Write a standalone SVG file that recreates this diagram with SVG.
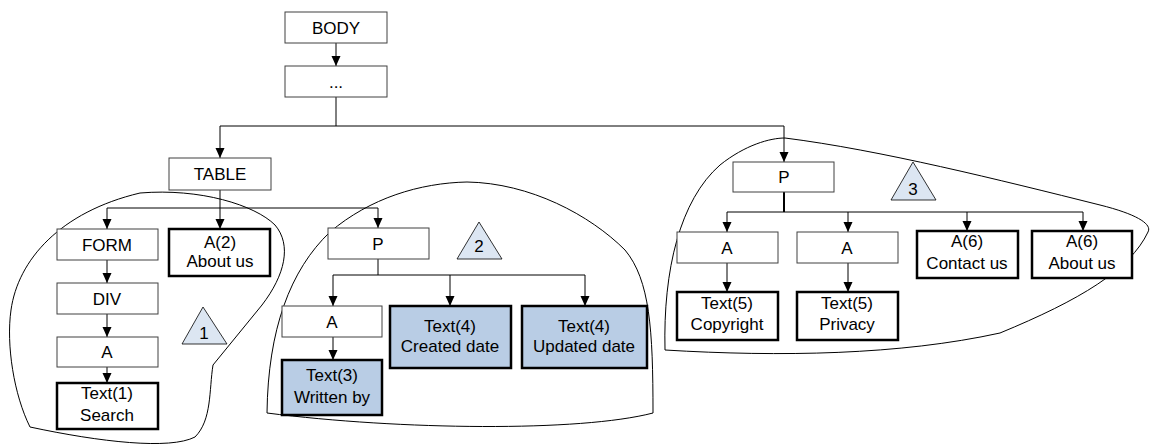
<svg xmlns="http://www.w3.org/2000/svg" width="1152" height="447" viewBox="0 0 1152 447">
<defs>
<marker id="ah" markerUnits="userSpaceOnUse" markerWidth="10" markerHeight="10" viewBox="0 0 10 10" refX="10" refY="5" orient="auto">
<path d="M0,0.5 L10,5 L0,9.5 Z" fill="#000"/>
</marker>
<style>
.n{fill:#fff;stroke:#404040;stroke-width:1}
.b{fill:#fff;stroke:#000;stroke-width:2.5}
.bl{fill:#b9cde5;stroke:#000;stroke-width:2.5}
.t{font-family:"Liberation Sans",Arial,sans-serif;font-size:17px;fill:#000;text-anchor:middle}
.c{fill:none;stroke:#000;stroke-width:1;marker-end:url(#ah)}
.blob{fill:none;stroke:#000;stroke-width:1}
.tri{fill:#dce6f2;stroke:#000;stroke-width:0.8}
</style>
</defs>
<rect width="1152" height="447" fill="#fff"/>
<g id="regions">
<path class="blob" d="M30,427 C14,395 6,345 11,310 C18,260 60,212 140,193 C200,188 255,205 275,225 C292,245 285,275 262,305 L213,365 C209,390 212,420 195,437 C170,450 100,442 30,427 Z"/>
<path class="blob" d="M267,413 C268,330 290,270 330,232 C370,198 420,183 467,182 C530,183 590,215 625,250 C650,280 653,330 653,413 C580,432 400,430 267,413 Z"/>
<path class="blob" d="M665,350 C663,270 680,200 720,165 C745,145 770,138 785,138 C880,150 1000,180 1100,205 C1140,215 1152,225 1148,232 C1130,270 1080,300 1000,333 C900,355 780,357 665,350 Z"/>
<g id="tri1"><polygon class="tri" points="203,307 182,344 227,344"/><text class="t" x="204" y="339">1</text></g>
<g id="tri2"><polygon class="tri" points="479,222 457,259 502,259"/><text class="t" x="479" y="252">2</text></g>
<g id="tri3"><polygon class="tri" points="913,162 891,200 936,200"/><text class="t" x="913" y="195">3</text></g>
</g>
<g id="connectors">
<path class="c" d="M336,43 V66"/>
<path class="c" d="M336,97 V126 H220 V158"/>
<path class="c" d="M336,126 H784 V162"/>
<path class="c" d="M220,190 V229"/>
<path class="c" d="M220,208 H107 V229"/>
<path class="c" d="M220,208 H378 V228"/>
<path class="c" d="M107,260 V283"/>
<path class="c" d="M107,314 V337"/>
<path class="c" d="M107,367 V383"/>
<path class="c" d="M378,259 V275 H333 V306"/>
<path class="c" d="M378,275 H450 V306"/>
<path class="c" d="M450,275 H585 V306"/>
<path class="c" d="M333,337 V360"/>
<path d="M784,192 V212" stroke="#000" stroke-width="2" fill="none"/>
<path class="c" d="M784,212 H727 V232"/>
<path class="c" d="M784,212 H848 V232"/>
<path class="c" d="M848,212 H967 V231"/>
<path class="c" d="M967,212 H1083 V231"/>
<path class="c" d="M727,263 V292"/>
<path class="c" d="M848,263 V292"/>
</g>
<g id="body"><rect class="n" x="285" y="12" width="102" height="31"/><text class="t" x="336" y="33.5">BODY</text></g>
<g id="dots"><rect class="n" x="285" y="66" width="102" height="31"/><text class="t" x="336" y="87.5">...</text></g>
<g id="table"><rect class="n" x="169" y="158" width="102" height="32"/><text class="t" x="220" y="180">TABLE</text></g>
<g id="form"><rect class="n" x="57" y="229" width="101" height="31"/><text class="t" x="107" y="250.5">FORM</text></g>
<g id="a2"><rect class="b" x="169" y="229" width="101" height="47"/><text class="t" x="220" y="247.5">A(2)</text><text class="t" x="220" y="267">About us</text></g>
<g id="div"><rect class="n" x="57" y="283" width="101" height="31"/><text class="t" x="107" y="304.5">DIV</text></g>
<g id="a-1"><rect class="n" x="57" y="337" width="101" height="30"/><text class="t" x="107" y="358">A</text></g>
<g id="text1"><rect class="b" x="57" y="383" width="101" height="46"/><text class="t" x="107" y="399">Text(1)</text><text class="t" x="107" y="420.5">Search</text></g>
<g id="p2"><rect class="n" x="328" y="228" width="101" height="31"/><text class="t" x="378" y="249.5">P</text></g>
<g id="a-3"><rect class="n" x="282" y="306" width="100" height="31"/><text class="t" x="332" y="327.5">A</text></g>
<g id="text3"><rect class="bl" x="282" y="360" width="100" height="55"/><text class="t" x="332" y="381">Text(3)</text><text class="t" x="332" y="402.5">Written by</text></g>
<g id="text4a"><rect class="bl" x="390" y="306" width="121" height="62"/><text class="t" x="450" y="332">Text(4)</text><text class="t" x="450" y="352">Created date</text></g>
<g id="text4b"><rect class="bl" x="522" y="306" width="125" height="62"/><text class="t" x="584" y="332">Text(4)</text><text class="t" x="584" y="352">Updated date</text></g>
<g id="p3"><rect class="n" x="733" y="162" width="101" height="30"/><text class="t" x="784" y="183">P</text></g>
<g id="a-5a"><rect class="n" x="677" y="232" width="101" height="31"/><text class="t" x="727" y="253.5">A</text></g>
<g id="a-5b"><rect class="n" x="797" y="232" width="101" height="31"/><text class="t" x="847" y="253.5">A</text></g>
<g id="a6a"><rect class="b" x="917" y="231" width="101" height="47"/><text class="t" x="967" y="247">A(6)</text><text class="t" x="967" y="268.5">Contact us</text></g>
<g id="a6b"><rect class="b" x="1032" y="231" width="100" height="47"/><text class="t" x="1082" y="247">A(6)</text><text class="t" x="1082" y="268.5">About us</text></g>
<g id="text5a"><rect class="b" x="677" y="292" width="101" height="48"/><text class="t" x="727" y="308.5">Text(5)</text><text class="t" x="727" y="330">Copyright</text></g>
<g id="text5b"><rect class="b" x="797" y="292" width="101" height="48"/><text class="t" x="847" y="308.5">Text(5)</text><text class="t" x="847" y="330">Privacy</text></g>
</svg>
